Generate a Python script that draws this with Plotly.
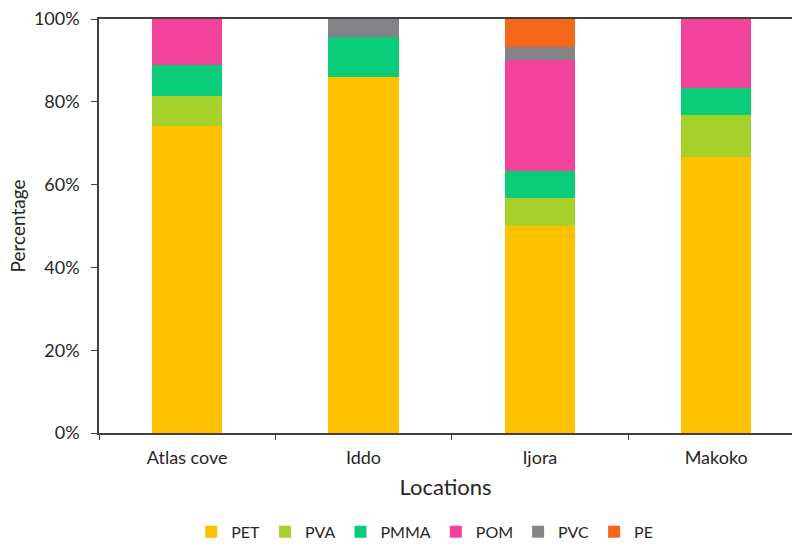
import plotly.graph_objects as go

# Share of each polymer type found at every sampling location (%)
locations = ["Atlas cove", "Iddo", "Ijora", "Makoko"]
polymers = ["PET", "PVA", "PMMA", "POM", "PVC", "PE"]

pet = [74.1, 86.1, 50.0, 66.7]
pva = [7.4, 0.0, 6.7, 10.0]
pmma = [7.4, 9.5, 6.6, 6.6]
pom = [11.1, 0.0, 26.7, 16.7]
pvc = [0.0, 4.4, 3.3, 0.0]
pe = [0.0, 0.0, 6.7, 0.0]

series = [pet, pva, pmma, pom, pvc, pe]
colors = ["#FFC000", "#A6D02A", "#0BCC78", "#F2429A", "#838388", "#F5681C"]

fig = go.Figure()
for name, vals, col in zip(polymers, series, colors):
    fig.add_trace(go.Bar(
        x=locations,
        y=vals,
        name=name,
        marker=dict(color=col, line=dict(width=0)),
        width=0.4,
    ))

font_family = "Lato, 'Open Sans', sans-serif"
text_color = "#262626"
axis_color = "#404040"

fig.update_layout(
    barmode="stack",
    width=792,
    height=550,
    paper_bgcolor="white",
    plot_bgcolor="white",
    margin=dict(l=99, r=0, t=19, b=117, autoexpand=False),
    font=dict(family=font_family, color=text_color),
    showlegend=True,
    legend=dict(
        orientation="h",
        traceorder="normal",
        x=0.47,
        xanchor="center",
        y=-0.28,
        yanchor="bottom",
        font=dict(size=16, color=text_color),
        itemwidth=30,
    ),
    xaxis=dict(
        range=[-0.5, 3.43],
        automargin=False,
        showline=True,
        linecolor=axis_color,
        linewidth=1.5,
        mirror=True,
        ticks="outside",
        tickson="boundaries",
        ticklen=5,
        tickcolor=axis_color,
        ticklabelstandoff=8,
        tickfont=dict(size=18, color=text_color),
        showgrid=False,
        title=dict(text="Locations", font=dict(size=22, color=text_color), standoff=12),
    ),
    yaxis=dict(
        range=[0, 100],
        automargin=False,
        tickvals=[0, 20, 40, 60, 80, 100],
        ticktext=["0%", "20%", "40%", "60%", "80%", "100%"],
        showline=True,
        linecolor=axis_color,
        linewidth=1.5,
        ticks="outside",
        ticklen=6,
        tickcolor=axis_color,
        ticklabelstandoff=8,
        tickfont=dict(size=18, color=text_color),
        showgrid=False,
        zeroline=False,
        title=dict(text="Percentage", font=dict(size=19, color=text_color), standoff=3),
    ),
)

fig.write_html("out.html")
